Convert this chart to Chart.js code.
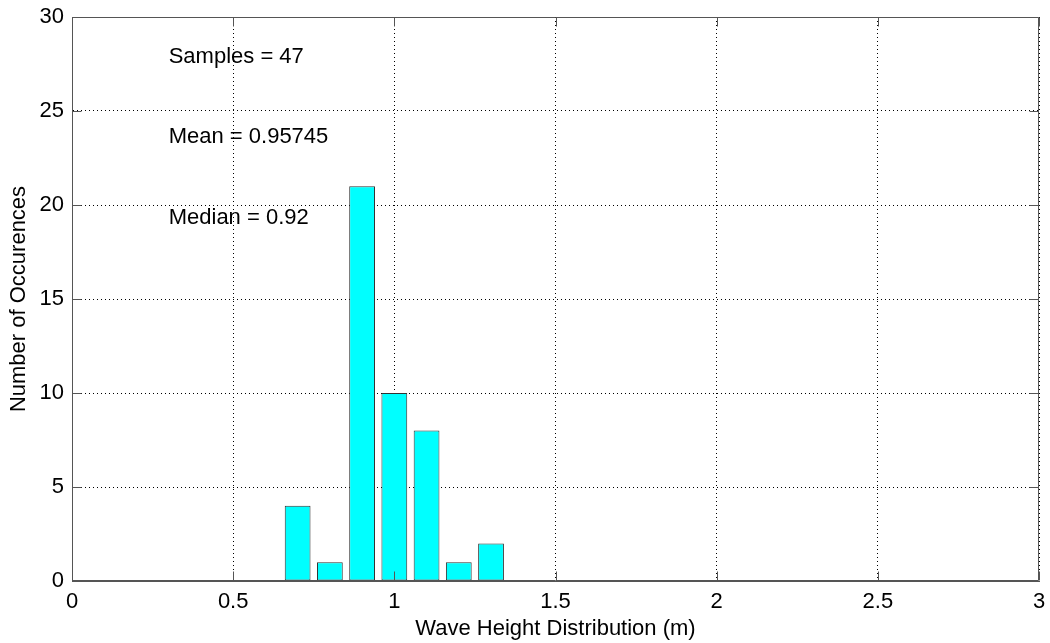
<!DOCTYPE html>
<html>
<head>
<meta charset="utf-8">
<script src="https://cdn.jsdelivr.net/npm/chart.js@4/dist/chart.umd.min.js"></script>
<style>
  html, body { margin: 0; padding: 0; background: #fff; }
  #wrap { width: 1050px; height: 643px; position: relative; }
</style>
</head>
<body>
<div id="wrap"><canvas id="histChart"></canvas></div>
<script>
// bin centres (m) and counts
const binCenters = [0.7, 0.8, 0.9, 1.0, 1.1, 1.2, 1.3];
const counts = [4, 1, 21, 10, 8, 1, 2];

const xTicks = [0, 0.5, 1, 1.5, 2, 2.5, 3];
const yTicks = [0, 5, 10, 15, 20, 25, 30];

// stat notes: [x, y] in data units, text
const notes = [
    [0.3, 27.85, 'Samples = 47'],
    [0.3, 23.6, 'Mean = 0.95745'],
    [0.3, 19.3, 'Median = 0.92']
];

const FONT = "'Liberation Sans', Arial, sans-serif";
const frameColor = '#555';

// box around the axes, inward ticks and the text notes
const matlabAxes = {
    id: 'matlabAxes',
    afterDatasetsDraw(chart) {
        const { ctx, chartArea: a, scales: { x, y } } = chart;
        ctx.save();
        ctx.strokeStyle = frameColor;
        ctx.lineWidth = 1;
        const L = Math.round(a.left) + 0.5, R = Math.round(a.right) - 0.5;
        const T = Math.round(a.top) + 0.5, B = Math.round(a.bottom) - 0.5;
        ctx.beginPath();
        ctx.rect(L, T, R - L, B - T);
        xTicks.forEach(v => {
            const px = Math.round(x.getPixelForValue(v)) + 0.5;
            ctx.moveTo(px, B); ctx.lineTo(px, B - 9);
            ctx.moveTo(px, T); ctx.lineTo(px, T + 9);
        });
        yTicks.forEach(v => {
            const py = Math.round(y.getPixelForValue(v)) + 0.5;
            ctx.moveTo(L, py); ctx.lineTo(L + 9, py);
            ctx.moveTo(R, py); ctx.lineTo(R - 9, py);
        });
        ctx.stroke();

        ctx.fillStyle = '#000';
        ctx.font = '22px ' + FONT;
        ctx.textAlign = 'left';
        ctx.textBaseline = 'middle';
        notes.forEach(n => {
            ctx.fillText(n[2], x.getPixelForValue(n[0]), y.getPixelForValue(n[1]));
        });
        ctx.restore();
    }
};

const ctx = document.getElementById('histChart').getContext('2d');
const histChart = new Chart(ctx, {
    type: 'bar',
    data: {
        datasets: [{
            data: binCenters.map((c, i) => ({ x: c, y: counts[i] })),
            backgroundColor: '#00ffff',
            borderColor: '#333',
            borderWidth: 1,
            borderSkipped: false,
            barPercentage: 0.8,
            categoryPercentage: 1.0
        }]
    },
    options: {
        responsive: true,
        maintainAspectRatio: false,
        animation: false,
        layout: {
            padding: { top: 17, right: 11, left: 0, bottom: 0 }
        },
        plugins: {
            legend: { display: false },
            tooltip: { enabled: false }
        },
        scales: {
            x: {
                type: 'linear',
                min: 0,
                max: 3,
                offset: false,
                afterBuildTicks: s => { s.ticks = xTicks.map(v => ({ value: v })); },
                afterFit: s => {
                    s.height = 62;
                    s.paddingLeft = 0;
                    s.paddingRight = 0;
                },
                grid: {
                    color: '#000',
                    lineWidth: 1,
                    offset: false,
                    drawTicks: false
                },
                border: { display: true, color: frameColor, width: 1, dash: [1, 3] },
                ticks: {
                    color: '#000',
                    font: { family: FONT, size: 22 },
                    padding: 8,
                    maxRotation: 0,
                    callback: v => String(v)
                },
                title: {
                    display: true,
                    text: 'Wave Height Distribution (m)',
                    color: '#000',
                    font: { family: FONT, size: 22 },
                    padding: { top: 0, bottom: 1 }
                }
            },
            y: {
                min: 0,
                max: 30,
                afterBuildTicks: s => { s.ticks = yTicks.map(v => ({ value: v })); },
                afterFit: s => {
                    s.width = 72;
                    s.paddingTop = 0;
                    s.paddingBottom = 0;
                },
                grid: {
                    color: '#000',
                    lineWidth: 1,
                    drawTicks: false
                },
                border: { display: true, color: frameColor, width: 1, dash: [1, 3] },
                ticks: {
                    color: '#000',
                    font: { family: FONT, size: 22 },
                    padding: 8
                },
                title: {
                    display: true,
                    text: 'Number of Occurences',
                    color: '#000',
                    font: { family: FONT, size: 22 },
                    padding: { top: 6, bottom: 0 }
                }
            }
        }
    },
    plugins: [matlabAxes]
});
</script>
</body>
</html>
